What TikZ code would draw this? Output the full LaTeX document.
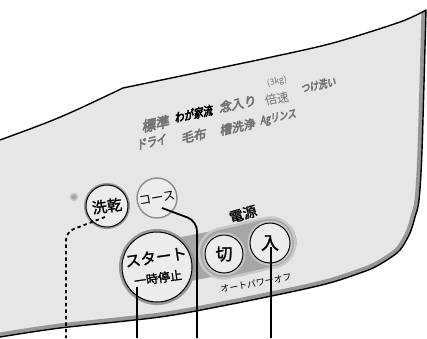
\documentclass[tikz,border=0pt]{standalone}
\usepackage{fontspec}
\newfontfamily\jpfont{Noto Sans CJK JP}
\newfontfamily\jpbold[FakeBold=1.5]{Noto Sans CJK JP}
\newfontfamily\jpmode[FakeBold=4,FakeSlant=0.22]{Noto Sans CJK JP}
\newfontfamily\jpnarrow[FakeBold=4,FakeSlant=0.22,FakeStretch=0.8]{Noto Sans CJK JP}
\definecolor{panelFill}{RGB}{230,230,230}
\definecolor{panelRim}{RGB}{150,150,150}
\definecolor{bandGray}{RGB}{166,166,166}
\definecolor{bandRim}{RGB}{200,200,200}
\definecolor{modeInk}{RGB}{115,115,115}
\definecolor{keyFill}{RGB}{236,236,236}
\definecolor{softRing}{RGB}{140,140,140}
\tikzset{
  edge/.style={draw=black, line width=1.4pt, line join=round},
  key/.style={circle, draw=black, line width=1pt, fill=keyFill, inner sep=0pt, preaction={draw=panelRim, line width=4pt}},
  bigkey/.style={key, preaction={draw=panelRim, line width=6pt}},
  softkey/.style={circle, draw=softRing, line width=1.4pt, fill=keyFill, inner sep=0pt},
  powerkey/.style={key, preaction={draw=bandRim, line width=5pt}},
  band/.style={rectangle, fill=bandGray, rounded corners=22pt, inner sep=0pt},
  pill/.style={band, draw=bandRim, line width=2.5pt, rounded corners=24pt},
  led/.style={circle, fill=gray!70, draw=gray!45, line width=1.5pt, minimum size=7pt, inner sep=0pt},
  modelabel/.style={text=modeInk, rotate=12, inner sep=0pt},
  note/.style={font=\jpfont\fontsize{9}{9}\selectfont, rotate=10, inner sep=0pt},
  lead/.style={draw=black, line width=1.8pt},
  dashlead/.style={lead, dash pattern=on 3.5pt off 3pt}
}
\begin{document}
\begin{tikzpicture}[x=1pt, y=-1pt]
  \useasboundingbox (0,0) rectangle (427,338);
  % panel
  \begin{scope}
    \clip (0,140) .. controls (60,118) .. (123,88)
      -- plot[smooth] coordinates {(123,88) (200,72) (267,58) (333,43) (400,22) (426,10)}
      -- plot[smooth] coordinates {(426,10) (422,150) (419,200) (415,217) (410,233) (400,250)
         (387,260) (373,268) (360,273) (333,282) (300,290) (227,305) (160,317) (60,328) (0,337)}
      -- cycle;
    \fill[panelFill] (0,0) rectangle (427,338);
    \draw[panelRim, line width=9pt] plot[smooth] coordinates {(426,10) (422,150) (419,200) (415,217)
      (410,233) (400,250) (387,260) (373,268) (360,273) (333,282) (300,290) (227,305) (160,317) (60,328) (0,337)};
  \end{scope}
  \draw[edge] (0,140) .. controls (60,118) .. (123,88)
    -- plot[smooth] coordinates {(123,88) (200,72) (267,58) (333,43) (400,22) (426,10)}
    -- plot[smooth] coordinates {(426,10) (422,150) (419,200) (415,217) (410,233) (400,250)
       (387,260) (373,268) (360,273) (333,282) (300,290) (227,305) (160,317) (60,328) (0,337)};
  % mode labels
  \node[modelabel, font=\jpmode\fontsize{14}{14}\selectfont] (std) at (155,124) {標準};
  \node[modelabel, text=black, font=\jpnarrow\fontsize{12}{12}\selectfont] (wagaya) at (193,114) {わが家流};
  \node[modelabel, font=\jpmode\fontsize{12.5}{12.5}\selectfont] (care) at (237,104) {念入り};
  \node[modelabel, font=\jpfont\fontsize{12}{12}\selectfont] (fast) at (277,99) {倍速};
  \node[modelabel, font=\jpfont\fontsize{8.5}{8.5}\selectfont] (kg) at (277,82) {(3kg)};
  \node[modelabel, font=\jpnarrow\fontsize{11}{11}\selectfont] (soak) at (318,85) {つけ洗い};
  \node[modelabel, font=\jpnarrow\fontsize{12.5}{12.5}\selectfont] (dry) at (151,142) {ドライ};
  \node[modelabel, font=\jpmode\fontsize{12.5}{12.5}\selectfont] (blanket) at (193,136) {毛布};
  \node[modelabel, font=\jpmode\fontsize{12}{12}\selectfont] (tub) at (237,127) {槽洗浄};
  \node[modelabel, font=\jpnarrow\fontsize{11}{11}\selectfont] (rinse) at (278,118) {Agリンス};
  % power band
  \node[band, minimum width=151pt, minimum height=45pt, rotate=11] (band) at (222,252) {};
  \node[pill, minimum width=97pt, minimum height=50pt, rotate=13] (pill) at (247,248) {};
  % keys
  \node[led] (lamp) at (74,197) {};
  \node[key, minimum size=42pt, font=\jpbold\fontsize{15}{15}\selectfont, rotate=8] (wash) at (107,206) {洗乾};
  \node[softkey, minimum size=40pt, font=\jpfont\fontsize{12.5}{12.5}\selectfont, rotate=10] (course) at (157,198) {コース};
  \node[bigkey, minimum size=70pt] (start) at (157,267) {};
  \node[font=\jpbold\fontsize{15.5}{15.5}\selectfont, rotate=8, inner sep=0pt] (startname) at (156,257) {スタート};
  \node[font=\jpbold\fontsize{12}{12}\selectfont, rotate=8, inner sep=0pt] (pausename) at (158,278) {一時停止};
  \node[powerkey, minimum size=38pt, font=\jpbold\fontsize{17}{17}\selectfont] (off) at (224,254) {切};
  \node[powerkey, minimum size=40pt, font=\jpbold\fontsize{18}{18}\selectfont] (on) at (270,243) {入};
  \node[note, font=\jpbold\fontsize{14}{14}\selectfont, rotate=6] (power) at (243,214) {電源};
  \node[note] (auto) at (256,283) {オートパワーオフ};
  % leader lines
  \coordinate (washbend) at (66,232);
  \coordinate (washfoot) at (66,338);
  \coordinate (coursebend) at (197,221);
  \coordinate (coursefoot) at (197,338);
  \coordinate (startfoot) at (137,338);
  \coordinate (onfoot) at (271,338);
  \draw[dashlead, rounded corners=8pt] ([xshift=-2pt, yshift=-11pt]wash.center) -- (washbend) -- (washfoot);
  \draw[lead, rounded corners=10pt] ([xshift=5pt, yshift=-10pt]course.center) -- (coursebend) -- (coursefoot);
  \draw[lead] ([xshift=-20pt, yshift=-20pt]start.center) -- (startfoot);
  \draw[lead] ([xshift=1pt, yshift=-4pt]on.center) -- (onfoot);
\end{tikzpicture}
\end{document}
